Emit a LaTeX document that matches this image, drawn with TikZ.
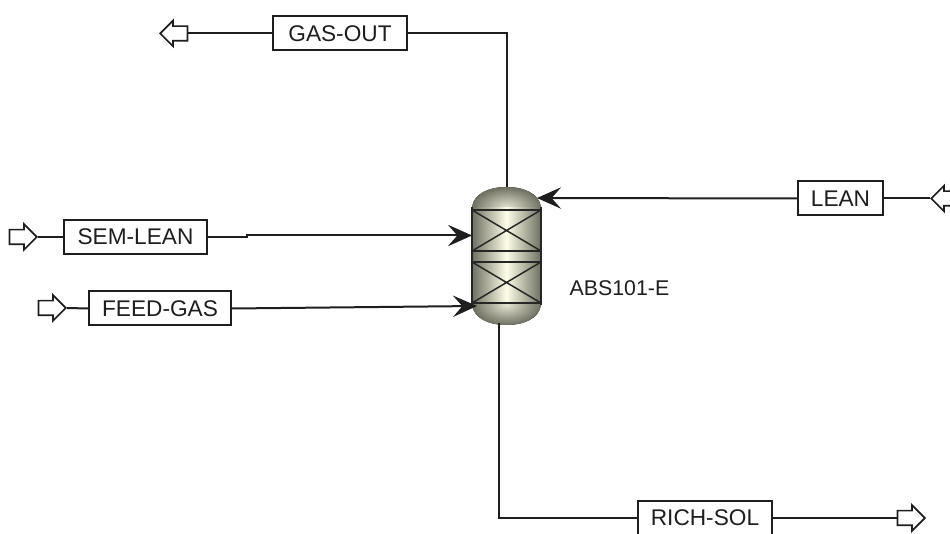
\documentclass[tikz,border=0pt]{standalone}
\usepackage{fontspec}
\setmainfont{Liberation Sans}
\usetikzlibrary{arrows.meta,shapes.arrows}
\definecolor{columnedge}{RGB}{112,112,98}
\definecolor{columnmid}{RGB}{253,253,232}
\definecolor{domemid}{RGB}{228,228,210}
\definecolor{streamink}{RGB}{30,30,30}
\tikzset{
    streambox/.style={draw=streamink, line width=1.5pt, fill=white, text=streamink, font=\fontsize{17}{19}\selectfont, minimum height=25.5pt, inner sep=0pt},
    streamport/.style={draw=streamink, line width=1.3pt, fill=white, single arrow, single arrow head extend=4pt, minimum height=20.5pt, inner sep=0pt},
    streamline/.style={draw=streamink, line width=1.5pt},
    feedarrow/.style={streamline, -{Stealth[length=18pt, width=16pt, inset=7pt]}},
    dome/.style={inner color=domemid, outer color=columnedge},
    body/.style={left color=columnedge, right color=columnedge, middle color=columnmid},
    tray/.style={draw=black!85, line width=1.4pt}
}

\begin{document}
\begin{tikzpicture}[x=0.75pt, y=-0.75pt]
    \useasboundingbox (0,0) rectangle (950,534);

    % column
    \node[minimum width=51.75pt, minimum height=103.5pt, inner sep=0pt] (abs) at (506.5,256) {};
    \fill[dome] (472,228) -- (472,207) .. controls (474,193) and (490,187) .. (506.5,187) .. controls (523,187) and (539,193) .. (541,207) -- (541,228) -- cycle;
    \fill[dome] (472,284) -- (472,305) .. controls (474,319) and (490,325) .. (506.5,325) .. controls (523,325) and (539,319) .. (541,305) -- (541,284) -- cycle;
    \fill[body] (472,208) rectangle (541,304);
    \draw[tray] (472,207) -- (472,305) (541,207) -- (541,305);
    \draw[tray] (472,210) -- (541,210) (472,251) -- (541,251) (472,262) -- (541,262) (472,303) -- (541,303);
    \draw[tray, line width=1.1pt] (472,210) -- (541,251) (472,251) -- (541,210);
    \draw[tray, line width=1.1pt] (472,262) -- (541,303) (472,303) -- (541,262);
    \node[text=streamink, font=\fontsize{16}{18}\selectfont, inner sep=0pt] (abslabel) at (619.5,288) {ABS101-E};

    \coordinate (semport) at (472,235.5);
    \coordinate (feedport) at (477,306);
    \coordinate (leanport) at (537,198);
    \coordinate (richport) at (499,323);

    % streams
    \node[streambox, minimum width=100.5pt] (gasout) at (340,33.5) {GAS-OUT};
    \node[streambox, minimum width=107pt] (semlean) at (135.5,237) {SEM-LEAN};
    \node[streambox, minimum width=106.5pt] (feedgas) at (160,308.5) {FEED-GAS};
    \node[streambox, minimum width=64pt] (lean) at (840.5,198.5) {LEAN};
    \node[streambox, minimum width=100.5pt] (richsol) at (705,518) {RICH-SOL};

    \node[streamport, anchor=tip, shape border rotate=180] (gasoutend) at (159,33.5) {\rule{0pt}{9.75pt}};
    \node[streamport, anchor=tip] (semleanend) at (38,237) {\rule{0pt}{9.75pt}};
    \node[streamport, anchor=tip] (feedgasend) at (67,308) {\rule{0pt}{9.75pt}};
    \node[streamport, anchor=tip, shape border rotate=180] (leanend) at (930,198.5) {\rule{0pt}{9.75pt}};
    \node[streamport, anchor=tip] (richsolend) at (926,518) {\rule{0pt}{9.75pt}};

    \draw[streamline] (gasout.east) -| (abs.north);
    \draw[streamline] (gasout.west) -- (gasoutend.tail);
    \draw[streamline] (semleanend.tip) -- (semlean.west);
    \draw[feedarrow] (semlean.east) -- ++(39,0) |- (semport);
    \draw[streamline] (feedgasend.tip) -- (feedgas.west);
    \draw[feedarrow] (feedgas.east) -- (feedport);
    \draw[streamline] (leanend.tip) -- (lean.east);
    \draw[feedarrow] (lean.west) -- (leanport);
    \draw[streamline] (richport) |- (richsol.west);
    \draw[streamline] (richsol.east) -- (richsolend.tail);
\end{tikzpicture}
\end{document}
